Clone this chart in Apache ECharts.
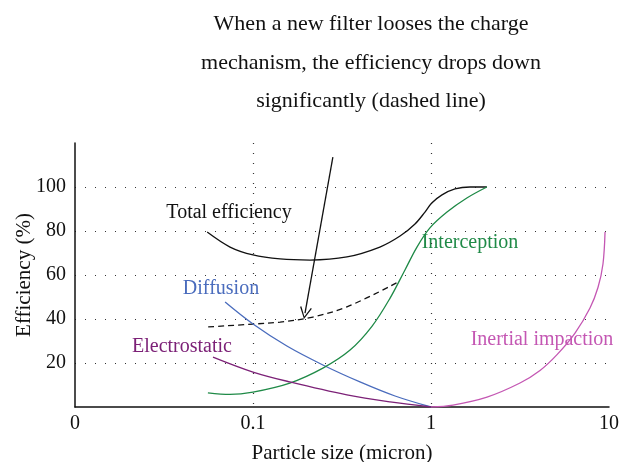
<!DOCTYPE html>
<html>
<head>
<meta charset="utf-8">
<script src="https://cdn.jsdelivr.net/npm/echarts@6/dist/echarts.min.js"></script>
<style>
  html, body { margin: 0; padding: 0; background: #fff; }
  #chart { width: 622px; height: 462px; }
</style>
</head>
<body>
<div id="chart"></div>
<script>
// particle size (micron) / efficiency (%)
const totalX = [0.0553, 0.0743, 0.1, 0.142, 0.209, 0.337, 0.516, 0.67, 0.813, 0.925, 1.01, 1.153, 1.364, 1.656, 2.06];
const totalY = [79.5, 72.7, 69.1, 67.3, 66.8, 68.2, 72.7, 77.7, 83.2, 88.6, 92.7, 96.4, 99.1, 100, 100];

const chargeLossX = [0.056, 0.1, 0.142, 0.217, 0.337, 0.64];
const chargeLossY = [36.4, 37.7, 38.6, 40.9, 45.5, 56.4];

const diffusionX = [0.0697, 0.1, 0.155, 0.247, 0.399, 0.628, 1];
const diffusionY = [47.7, 37.7, 27.7, 19.1, 11.4, 5.0, 0];

const interceptionX = [0.0558, 0.0742, 0.1, 0.161, 0.247, 0.351, 0.467, 0.589, 0.714, 0.834, 0.986, 1.23, 1.59, 2.06];
const interceptionY = [6.4, 5.7, 6.8, 10.9, 17.7, 25.9, 36.8, 49.5, 62.3, 72.7, 81.4, 88.6, 95.0, 100];

const electrostaticX = [0.0596, 0.1, 0.161, 0.337, 0.589, 1];
const electrostaticY = [22.7, 15.9, 11.4, 5.5, 2.3, 0];

const impactionX = [1, 1.329, 2.064, 3.162, 4.097, 5.105, 6.442, 7.82, 8.67, 9.25, 9.5];
const impactionY = [0, 0.9, 4.5, 10.9, 16.6, 23.8, 33.6, 45.0, 54.3, 65.0, 79.5];

const arrowFrom = [0.281, 113.6];
const arrowTo = [0.196, 42.7];

const xTicks = [0.01, 0.1, 1, 10];
const xTickLabels = ['0', '0.1', '1', '10'];
const yTicks = [20, 40, 60, 80, 100];

const FONT = 'Liberation Serif';
const pairs = (xs, ys) => xs.map((x, i) => [x, ys[i]]);

const chart = echarts.init(document.getElementById('chart'));

const curve = (name, xs, ys, color, type) => ({
  name: name,
  type: 'line',
  smooth: 0.35,
  symbol: 'none',
  silent: true,
  lineStyle: { color: color, width: 1.3, type: type || 'solid' },
  data: pairs(xs, ys),
});

const label = (text, x, y, color) => ({
  type: 'text',
  x: x,
  y: y,
  style: {
    text: text,
    fill: color,
    font: '20px "' + FONT + '"',
    textAlign: 'center',
    textVerticalAlign: 'middle',
  },
});

const option = {
  animation: false,
  backgroundColor: '#fff',
  title: {
    text: 'When a new filter looses the charge\nmechanism, the efficiency drops down\nsignificantly (dashed line)',
    left: 366,
    top: 0,
    textAlign: 'center',
    textStyle: {
      fontFamily: FONT,
      fontSize: 22,
      fontWeight: 'normal',
      color: '#111',
      lineHeight: 38.5,
    },
  },
  grid: { left: 75, right: 13, top: 143, bottom: 55, outerBoundsMode: 'none', containLabel: false },
  xAxis: {
    type: 'log',
    logBase: 10,
    min: 0.01,
    max: 10,
    name: 'Particle size (micron)',
    nameLocation: 'middle',
    nameGap: 36,
    nameMoveOverlap: false,
    nameTextStyle: { fontFamily: FONT, fontSize: 21, color: '#111' },
    axisLine: { lineStyle: { color: '#111', width: 1.5 } },
    axisTick: { show: false },
    axisLabel: {
      fontFamily: FONT,
      fontSize: 20,
      color: '#111',
      margin: 7,
      formatter: (v) => {
        const i = xTicks.findIndex((t) => Math.abs(Math.log10(t) - Math.log10(v)) < 0.01);
        return i >= 0 ? xTickLabels[i] : '';
      },
    },
    splitLine: {
      show: true,
      showMinLine: false,
      showMaxLine: false,
      lineStyle: { color: '#333', width: 1.2, type: [1, 9] },
    },
  },
  yAxis: {
    type: 'value',
    min: 0,
    max: 120,
    interval: 20,
    name: 'Efficiency (%)',
    nameLocation: 'middle',
    nameRotate: 90,
    nameGap: 40,
    nameMoveOverlap: false,
    nameTextStyle: { fontFamily: FONT, fontSize: 21, color: '#111' },
    axisLine: { show: true, lineStyle: { color: '#111', width: 1.5 } },
    axisTick: { show: false },
    axisLabel: {
      fontFamily: FONT,
      fontSize: 20,
      color: '#111',
      margin: 9,
      formatter: (v) => (yTicks.indexOf(v) >= 0 ? String(v) : ''),
    },
    splitLine: {
      show: true,
      showMinLine: false,
      showMaxLine: false,
      lineStyle: { color: '#333', width: 1.2, type: [1, 9] },
    },
  },
  series: [
    curve('Total efficiency', totalX, totalY, '#111'),
    curve('Without charge', chargeLossX, chargeLossY, '#111', [6, 4]),
    curve('Diffusion', diffusionX, diffusionY, '#4a6cbd'),
    curve('Interception', interceptionX, interceptionY, '#1f8a47'),
    curve('Electrostatic', electrostaticX, electrostaticY, '#7c2177'),
    curve('Inertial impaction', impactionX, impactionY, '#c457b3'),
    {
      type: 'lines',
      coordinateSystem: 'cartesian2d',
      silent: true,
      symbol: ['none', 'path://M5,0 L10,11 L9,11.6 L5,2.4 L1,11.6 L0,11 Z'],
      symbolSize: [11, 12],
      lineStyle: { color: '#111', width: 1.3, opacity: 1 },
      data: [{ coords: [arrowFrom, arrowTo] }],
    },
  ],
  graphic: [
    label('Total efficiency', 229, 213, '#111'),
    label('Diffusion', 221, 289, '#4a6cbd'),
    label('Interception', 470, 243, '#1f8a47'),
    label('Electrostatic', 182, 347, '#7c2177'),
    label('Inertial impaction', 542, 340, '#c457b3'),
  ],
};

chart.setOption(option);
</script>
</body>
</html>
